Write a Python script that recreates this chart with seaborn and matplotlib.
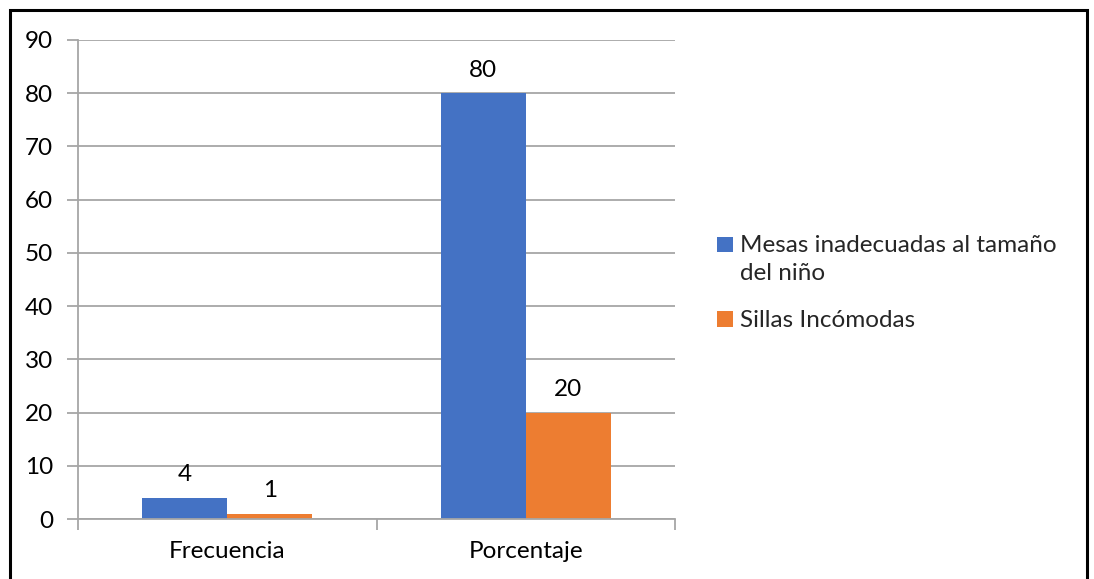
import matplotlib
matplotlib.use("Agg")
import matplotlib.pyplot as plt
from matplotlib.patches import Rectangle
from matplotlib.legend_handler import HandlerPatch
import seaborn as sns
import pandas as pd

categories = ["Frecuencia", "Porcentaje"]
series_names = ["Mesas inadecuadas al tamaño del niño", "Sillas Incómodas"]
mesas = [4, 80]
sillas = [1, 20]
colors = ["#4472C4", "#ED7D31"]
legend_labels = ["Mesas inadecuadas al tamaño\ndel niño", "Sillas Incómodas"]
y_ticks = [0, 10, 20, 30, 40, 50, 60, 70, 80, 90]

df = pd.DataFrame({
    "categoria": categories * 2,
    "serie": [series_names[0]] * len(categories) + [series_names[1]] * len(categories),
    "valor": mesas + sillas,
})

sns.set_theme(style="white")
plt.rcParams["font.family"] = ["Lato", "DejaVu Sans"]

W, H = 1094, 579
FS = 17.5
fig = plt.figure(figsize=(W / 100, H / 100), dpi=100)
ax = fig.add_axes([78 / W, 1 - 519 / H, (675 - 78) / W, (519 - 40) / H])

sns.barplot(data=df, x="categoria", y="valor", hue="serie",
            palette=colors, width=0.57, gap=0, saturation=1,
            edgecolor="none", linewidth=0, ax=ax, legend=False)

ax.set_xlim(-0.5, 1.5)
ax.set_ylim(0, 90)
ax.set_yticks(y_ticks)
ax.set_xlabel("")
ax.set_ylabel("")

grid_color = "#A6A6A6"
ax.yaxis.grid(True, color=grid_color, linewidth=1.3)
ax.set_axisbelow(True)
for side in ["top", "right"]:
    ax.spines[side].set_visible(False)
ax.spines["left"].set_color(grid_color)
ax.spines["left"].set_linewidth(1.3)
ax.spines["bottom"].set_color(grid_color)
ax.spines["bottom"].set_linewidth(1.3)

ax.tick_params(axis="y", which="major", left=True, length=8, width=1.3,
               color=grid_color, labelsize=FS, pad=10, labelcolor="black")
ax.tick_params(axis="x", which="major", bottom=False, labelsize=FS, pad=10,
               labelcolor="black")
ax.set_xticks([-0.5, 0.5, 1.5], minor=True)
ax.tick_params(axis="x", which="minor", bottom=True, length=8, width=1.3,
               color=grid_color)

for container in ax.containers:
    ax.bar_label(container, fmt="%g", padding=9, fontsize=FS, color="black")


class FirstLineSquare(HandlerPatch):
    """Square legend key raised to sit beside the first text line."""

    def __init__(self, lift=0.0, **kw):
        super().__init__(**kw)
        self.lift = lift

    def create_artists(self, legend, orig_handle, xdescent, ydescent,
                       width, height, fontsize, trans):
        artists = super().create_artists(legend, orig_handle, xdescent,
                                         ydescent - self.lift, width, height,
                                         fontsize, trans)
        return artists


handles = [Rectangle((0, 0), 1, 1, facecolor=c, edgecolor="none") for c in colors]
leg = fig.legend(handles, legend_labels, loc="center left",
                 bbox_to_anchor=(698 / W, 1 - 283 / H), frameon=False,
                 fontsize=FS, handlelength=0.62, handleheight=0.62,
                 handletextpad=0.3, labelspacing=1.1, borderpad=0.3,
                 handler_map={handles[0]: FirstLineSquare(lift=10.5)})
for t in leg.get_texts():
    t.set_linespacing(1.4)

fig.patches.append(Rectangle((10 / W, -0.05), (1087 - 10) / W, 1.05 - 10 / H,
                             transform=fig.transFigure, fill=False,
                             edgecolor="black", linewidth=2.2))

fig.savefig("out.png", dpi=100)
